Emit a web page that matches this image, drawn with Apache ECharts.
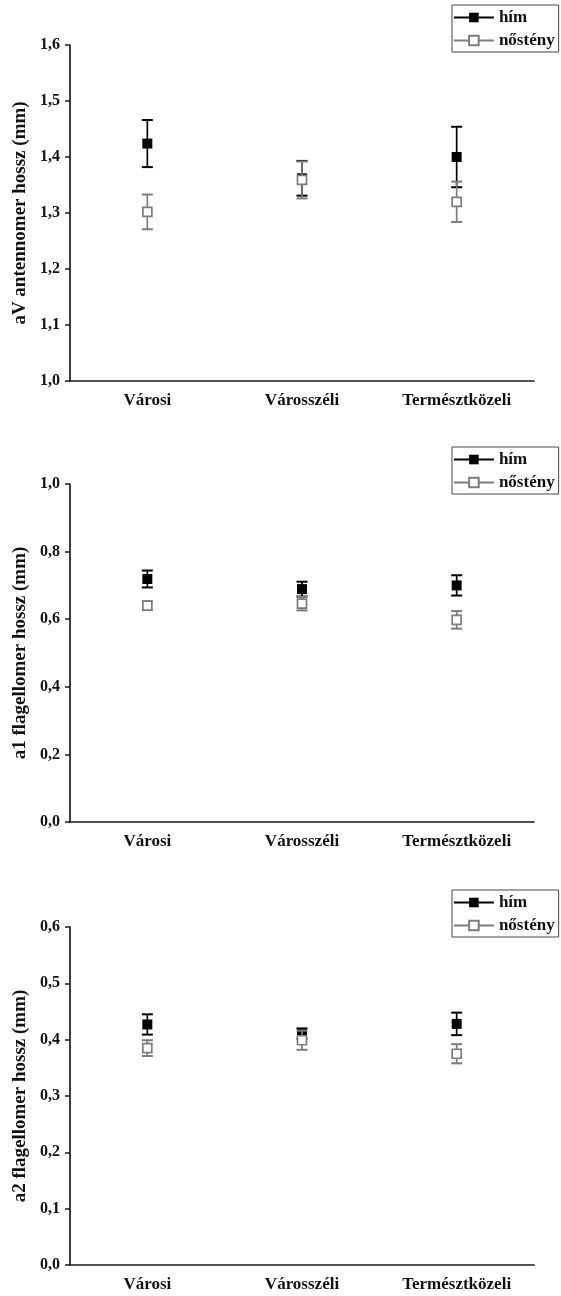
<!DOCTYPE html>
<html>
<head>
<meta charset="utf-8">
<script src="https://cdn.jsdelivr.net/npm/echarts@6/dist/echarts.min.js"></script>
<style>
  html, body { margin: 0; padding: 0; background: #fff; }
  #wrap { position: relative; width: 561px; height: 1296px; }
  .panel { position: absolute; left: 0; width: 561px; }
</style>
</head>
<body>
<div id="wrap">
  <div id="p1" class="panel" style="top:0;height:430px"></div>
  <div id="p2" class="panel" style="top:430px;height:430px"></div>
  <div id="p3" class="panel" style="top:860px;height:436px"></div>
</div>
<script>
// Sites along the urbanisation gradient
const categories = ['Városi', 'Városszéli', 'Természtközeli'];
const seriesNames = ['hím', 'nőstény'];

// aV antennomer length (mm): means and error half-widths
const avHim = [1.424, 1.362, 1.400];
const avHimErr = [0.042, 0.031, 0.054];
const avNosteny = [1.302, 1.359, 1.320];
const avNostenyErr = [0.031, 0.033, 0.036];

// a1 flagellomer length (mm)
const a1Him = [0.719, 0.689, 0.700];
const a1HimErr = [0.025, 0.022, 0.030];
const a1Nosteny = [0.640, 0.646, 0.598];
const a1NostenyErr = [0.013, 0.020, 0.026];

// a2 flagellomer length (mm)
const a2Him = [0.427, 0.411, 0.428];
const a2HimErr = [0.018, 0.009, 0.020];
const a2Nosteny = [0.385, 0.399, 0.375];
const a2NostenyErr = [0.014, 0.017, 0.017];

// y-axis settings per panel
const yTitles = ['aV antennomer hossz (mm)', 'a1 flagellomer hossz (mm)', 'a2 flagellomer hossz (mm)'];
const yMins = [1.0, 0.0, 0.0];
const yMaxs = [1.6, 1.0, 0.6];
const yIntervals = [0.1, 0.2, 0.1];

const FONT = '"Liberation Serif", "Times New Roman", serif';
const AXIS = '#1a1a1a';
const HIM_COLOR = '#000000';
const NOST_COLOR = '#7c7c7c';

function errorSeries(means, errs, color, z) {
  return {
    type: 'custom',
    xAxisIndex: 0,
    yAxisIndex: 0,
    z: z,
    silent: true,
    encode: { x: 0, y: [1, 2] },
    data: means.map((m, i) => [i, m - errs[i], m + errs[i]]),
    renderItem: function (params, api) {
      const x = api.value(0);
      const lo = api.coord([x, api.value(1)]);
      const hi = api.coord([x, api.value(2)]);
      const half = 5.5;
      const bar = { stroke: color, lineWidth: 1.7 };
      const cap = { stroke: color, lineWidth: 2 };
      return {
        type: 'group',
        children: [
          { type: 'line', shape: { x1: hi[0], y1: hi[1], x2: lo[0], y2: lo[1] }, style: bar },
          { type: 'line', shape: { x1: hi[0] - half, y1: hi[1], x2: hi[0] + half, y2: hi[1] }, style: cap },
          { type: 'line', shape: { x1: lo[0] - half, y1: lo[1], x2: lo[0] + half, y2: lo[1] }, style: cap }
        ]
      };
    }
  };
}

function buildOption(idx, him, himErr, nost, nostErr, grid, legendTop) {
  return {
    animation: false,
    backgroundColor: '#fff',
    textStyle: { fontFamily: FONT },
    grid: grid,
    legend: {
      orient: 'vertical',
      left: 452,
      top: legendTop,
      data: seriesNames,
      padding: [4, 4, 3, 1],
      itemGap: 6,
      itemWidth: 40,
      itemHeight: 12,
      borderColor: '#444',
      borderWidth: 1,
      selectedMode: false,
      lineStyle: { opacity: 1, width: 1.8 },
      textStyle: { fontFamily: FONT, fontWeight: 'bold', fontSize: 17, color: '#111' }
    },
    xAxis: [
      {
        type: 'category',
        data: categories,
        boundaryGap: true,
        axisLine: { lineStyle: { color: AXIS, width: 1.7 } },
        axisTick: { alignWithLabel: true, length: 5, lineStyle: { color: AXIS, width: 1.5 } },
        axisLabel: { margin: 11, fontFamily: FONT, fontWeight: 'bold', fontSize: 17, color: '#111' },
        splitLine: { show: false }
      },
      {
        type: 'category',
        data: categories,
        boundaryGap: true,
        position: 'bottom',
        axisLine: { show: false },
        axisTick: { alignWithLabel: false, length: 3, lineStyle: { color: AXIS, width: 1.3 } },
        axisLabel: { show: false },
        splitLine: { show: false }
      }
    ],
    yAxis: {
      type: 'value',
      min: yMins[idx],
      max: yMaxs[idx],
      interval: yIntervals[idx],
      name: yTitles[idx],
      nameLocation: 'middle',
      nameGap: 35,
      nameRotate: 90,
      nameTextStyle: { fontFamily: FONT, fontWeight: 'bold', fontSize: 19, color: '#111' },
      axisLine: { show: true, lineStyle: { color: AXIS, width: 1.7 } },
      axisTick: { show: true, length: 5, lineStyle: { color: AXIS, width: 1.5 } },
      axisLabel: {
        margin: 10,
        fontFamily: FONT, fontWeight: 'bold', fontSize: 16, color: '#111',
        formatter: v => v.toFixed(1).replace('.', ',')
      },
      splitLine: { show: false }
    },
    series: [
      errorSeries(him, himErr, HIM_COLOR, 2),
      {
        name: seriesNames[0],
        type: 'line',
        z: 3,
        data: him,
        symbol: 'rect',
        symbolSize: 10,
        showSymbol: true,
        lineStyle: { color: HIM_COLOR, opacity: 0 },
        itemStyle: { color: HIM_COLOR, borderColor: HIM_COLOR, borderWidth: 0 }
      },
      errorSeries(nost, nostErr, NOST_COLOR, 4),
      {
        name: seriesNames[1],
        type: 'line',
        z: 5,
        data: nost,
        symbol: 'rect',
        symbolSize: 9,
        showSymbol: true,
        lineStyle: { color: NOST_COLOR, opacity: 0 },
        itemStyle: { color: '#ffffff', borderColor: NOST_COLOR, borderWidth: 1.7 }
      }
    ]
  };
}

const c1 = echarts.init(document.getElementById('p1'));
c1.setOption(buildOption(0, avHim, avHimErr, avNosteny, avNostenyErr,
  { left: 70, width: 464, top: 45, height: 336 }, 5));

const c2 = echarts.init(document.getElementById('p2'));
c2.setOption(buildOption(1, a1Him, a1HimErr, a1Nosteny, a1NostenyErr,
  { left: 70, width: 464, top: 54, height: 338 }, 17));

const c3 = echarts.init(document.getElementById('p3'));
c3.setOption(buildOption(2, a2Him, a2HimErr, a2Nosteny, a2NostenyErr,
  { left: 70, width: 464, top: 67, height: 338 }, 30));
</script>
</body>
</html>
